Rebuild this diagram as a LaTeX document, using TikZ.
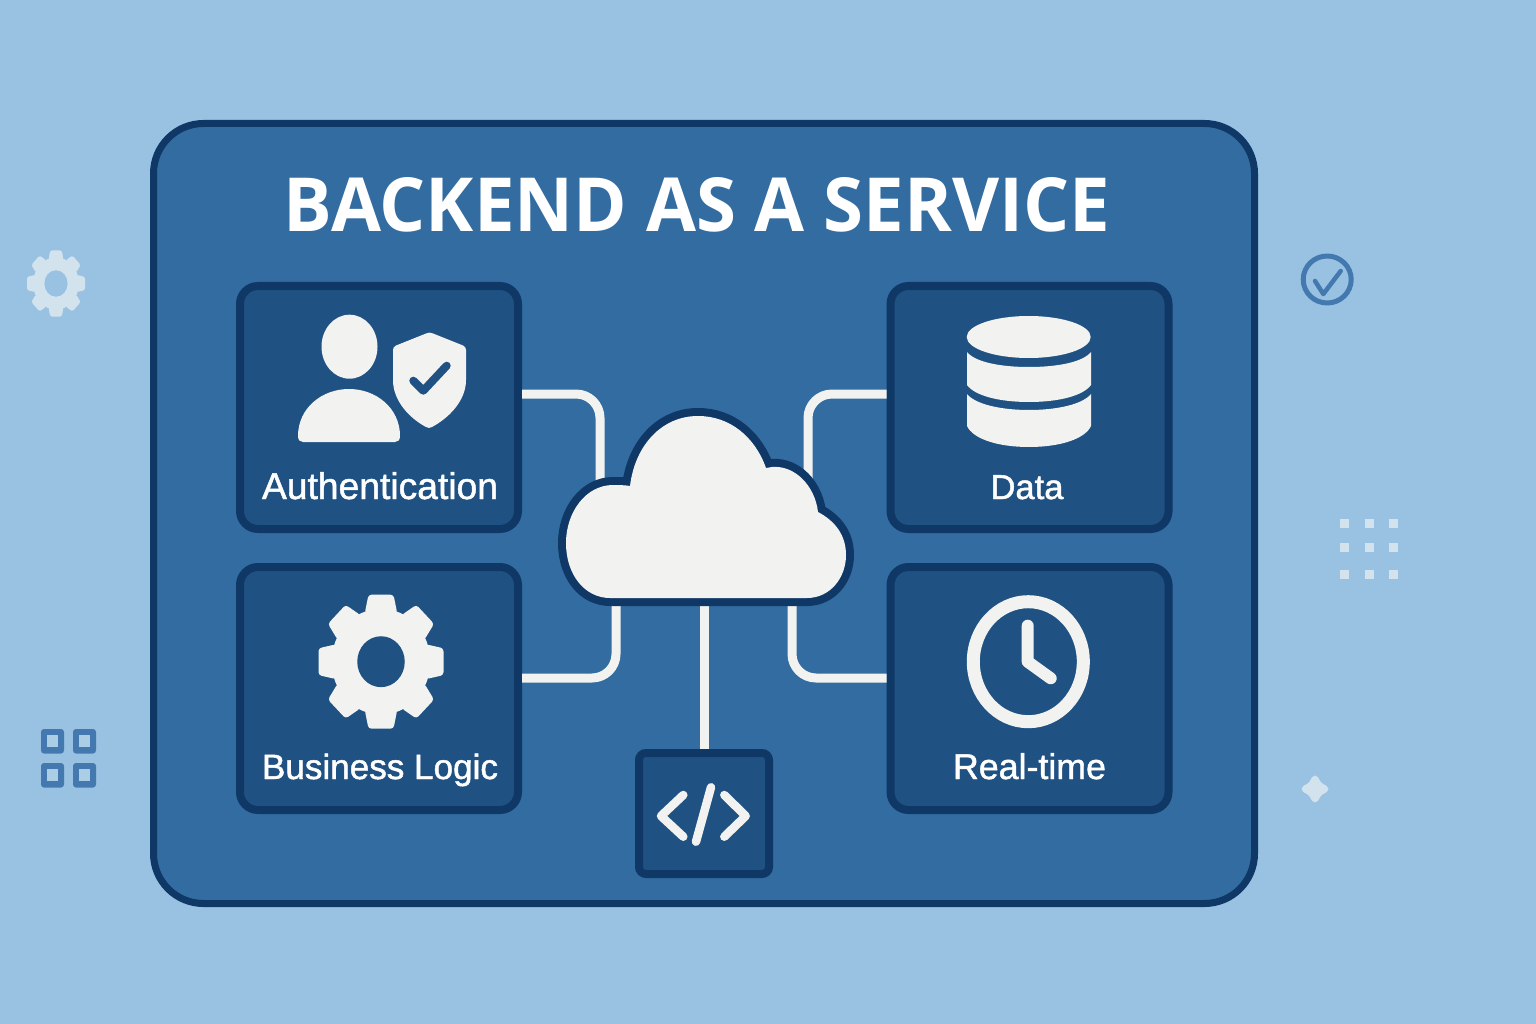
\documentclass[tikz,border=0pt]{standalone}
\usepackage{fontspec}
\usepackage{graphicx}
\setmainfont{Liberation Sans}
\newfontfamily\labelfont[FakeBold=1.3]{Liberation Sans}
\newfontfamily\titlefont{Open Sans}[BoldFont=* Bold]
\definecolor{bgblue}{HTML}{98C1E2}
\definecolor{panelblue}{HTML}{326CA1}
\definecolor{cardblue}{HTML}{1F5283}
\definecolor{edgeblue}{HTML}{0F3866}
\definecolor{iconwhite}{HTML}{F2F2F0}
\definecolor{softblue}{HTML}{4479B0}
\definecolor{softwhite}{HTML}{D3E3EE}
\definecolor{softfill}{HTML}{ABCDE5}
\tikzset{
  panelbox/.style={draw=edgeblue,fill=panelblue,line width=7pt,rounded corners=50pt,inner sep=0pt,minimum width=1101pt,minimum height=780pt},
  cardbox/.style={draw=edgeblue,fill=cardblue,line width=8pt,rounded corners=18pt,inner sep=0pt,minimum width=278pt,minimum height=243pt},
  codebox/.style={draw=edgeblue,fill=cardblue,line width=8pt,rounded corners=7pt,inner sep=0pt,minimum width=130pt,minimum height=121pt},
  conn/.style={draw=iconwhite,line width=9pt,rounded corners=24pt},
  icon/.style={fill=iconwhite,draw=none},
  iconline/.style={draw=iconwhite,line cap=round,line join=round},
  label/.style={text=white,inner sep=0pt,anchor=base},
  softline/.style={draw=softblue,line cap=round,line join=round},
  softdot/.style={fill=softwhite,draw=none},
}
% centre x, centre y, half width, half height, corner radius, fill colour, hole colour, hole radius
\newcommand{\gearicon}[8]{%
  \begin{scope}[shift={(#1,#2)},xscale=#3,yscale=#4]
    \fill[#6] (0,0) circle[radius=.79];
    \foreach \toothangle in {0,45,...,315}{
      \fill[#6,rotate=\toothangle,rounded corners=#5] (-.26,.72) -- (-.2,1) -- (.2,1) -- (.26,.72) -- cycle;
    }
    \fill[#7] (0,0) circle[radius=#8];
  \end{scope}}
\newcommand{\fitw}[2]{\resizebox{#1}{!}{#2}}
\begin{document}
\begin{tikzpicture}[x=1pt,y=-1pt]
\useasboundingbox (0,0) rectangle (1536,1024);
\fill[bgblue] (0,0) rectangle (1536,1024);

% panel and cards
\node[panelbox] (panel) at (704,513.5) {};
\node[cardbox] (auth) at (379,407.5) {};
\node[cardbox] (biz) at (379,688.5) {};
\node[cardbox] (data) at (1029.5,407.5) {};
\node[cardbox] (rt) at (1029.5,688.5) {};
\node[codebox] (code) at (704,813.5) {};

% title
\node[text=white,inner sep=0pt] (title) at (697,205) {\resizebox{826pt}{54pt}{\titlefont\bfseries BACKEND AS A SERVICE}};

% connectors
\coordinate (cloudTL) at (600,500);
\coordinate (cloudTR) at (808,490);
\coordinate (cloudBL) at (616,590);
\coordinate (cloudBR) at (792,590);
\coordinate (cloudB) at (704,590);
\draw[conn] ([yshift=13.5pt]auth.east) -| (cloudTL);
\draw[conn] ([yshift=13.5pt]data.west) -| (cloudTR);
\draw[conn] ([yshift=10.5pt]biz.east) -| (cloudBL);
\draw[conn] ([yshift=10.5pt]rt.west) -| (cloudBR);
\draw[draw=iconwhite,line width=9pt] (cloudB) -- (code.north);

% cloud
\def\cloudpath{(610,598) -- (807,598)
  .. controls (830,598) and (846,578) .. (846,555)
  .. controls (846,535) and (835,521) .. (818,512)
  .. controls (815,486) and (795,465) .. (772,467) -- (766,468)
  .. controls (755,437) and (730,416) .. (698,416)
  .. controls (662,416) and (635,445) .. (630,486)
  .. controls (624,485) and (618,485) .. (613,485)
  .. controls (586,485) and (566,512) .. (566,543)
  .. controls (566,575) and (585,598) .. (610,598) -- cycle}
\draw[edgeblue,line width=16pt,line join=round] \cloudpath;
\fill[iconwhite] \cloudpath;

% person and shield
\fill[icon] (349.5,346.7) ellipse[x radius=28,y radius=32];
\fill[icon] (298,436) .. controls (298,408) and (322,389) .. (349,389)
  .. controls (376,389) and (400,408) .. (400,436)
  .. controls (400,440) and (398,442) .. (395,442) -- (303,442)
  .. controls (300,442) and (298,440) .. (298,436) -- cycle;
\fill[icon] (426,333.5) .. controls (428,332.3) and (431,332.3) .. (433,333.5) -- (463,345.5)
  .. controls (465,346.5) and (466,348) .. (466,350) -- (466,380)
  .. controls (466,402) and (447,419) .. (432,427)
  .. controls (430,428.3) and (428,428.3) .. (426,427)
  .. controls (411,419) and (393,402) .. (393,380) -- (393,350)
  .. controls (393,348) and (394,346.5) .. (396,345.5) -- cycle;
\draw[draw=cardblue,line width=8pt,line cap=round,line join=round] (413.3,380.7) -- (423.3,390.7) -- (446.7,365.7);
\node[label] (authlabel) at (380,499) {\fitw{236pt}{\labelfont Authentication}};

% business gear
\gearicon{381}{661.7}{62.5}{67}{3pt}{iconwhite}{cardblue}{.38}
\node[label] (bizlabel) at (380,779) {\fitw{236pt}{\labelfont Business Logic}};

% database
\fill[icon] (1028.7,337) ellipse[x radius=62,y radius=21];
\fill[icon] (967,352) .. controls (975,362) and (1000,367) .. (1029,367)
  .. controls (1058,367) and (1083,362) .. (1091,352) -- (1091,385)
  .. controls (1083,396) and (1058,402) .. (1029,402)
  .. controls (1000,402) and (975,396) .. (967,385) -- cycle;
\fill[icon] (967,394) .. controls (975,404) and (1000,410) .. (1029,410)
  .. controls (1058,410) and (1083,404) .. (1091,394) -- (1091,426)
  .. controls (1085,439) and (1060,447) .. (1029,447)
  .. controls (998,447) and (973,439) .. (967,426) -- cycle;
\node[label] (datalabel) at (1027,499) {\fitw{73pt}{\labelfont Data}};

% clock
\draw[draw=iconwhite,line width=13pt] (1028.3,661.7) ellipse[x radius=55,y radius=60];
\draw[iconline,line width=12pt] (1027.7,625.7) -- (1027.7,661.7) -- (1050.7,678.3);
\node[label] (rtlabel) at (1029.5,779) {\fitw{153pt}{\labelfont Real-time}};

% code glyph
\draw[iconline,line width=8.5pt] (683.3,795) -- (661,816) -- (683.3,836.7);
\draw[iconline,line width=8.5pt] (724.3,795) -- (745.7,816) -- (724.3,836.7);
\draw[iconline,line width=8.5pt] (711,787.3) -- (696,841.7);

% background decorations
\gearicon{56}{283.5}{29}{33}{1.5pt}{softwhite}{bgblue}{.4}

\foreach \gx in {41,73}{
  \foreach \gy in {729,763}{
    \fill[softblue,rounded corners=3pt] (\gx,\gy) rectangle ++(23,24.5);
    \fill[softfill] (\gx+6,\gy+6) rectangle ++(11,12);
  }
}

\draw[softline,line width=5pt] (1327.2,279.5) ellipse[x radius=24,y radius=23.5];
\draw[softline,line width=4.5pt] (1315,281) -- (1323.3,294) -- (1340.7,271);

\foreach \dx in {1340,1365,1389}{
  \foreach \dy in {518.5,543,569.5}{
    \fill[softdot] (\dx,\dy) rectangle ++(9,9);
  }
}

\begin{scope}[shift={(1315,789)}]
  \fill[softwhite,draw=softwhite,line width=7pt,line join=round]
    (0,-10) .. controls (3,-4) and (4,-3) .. (10,0)
    .. controls (4,3) and (3,4) .. (0,10)
    .. controls (-3,4) and (-4,3) .. (-10,0)
    .. controls (-4,-3) and (-3,-4) .. (0,-10) -- cycle;
\end{scope}
\end{tikzpicture}
\end{document}
